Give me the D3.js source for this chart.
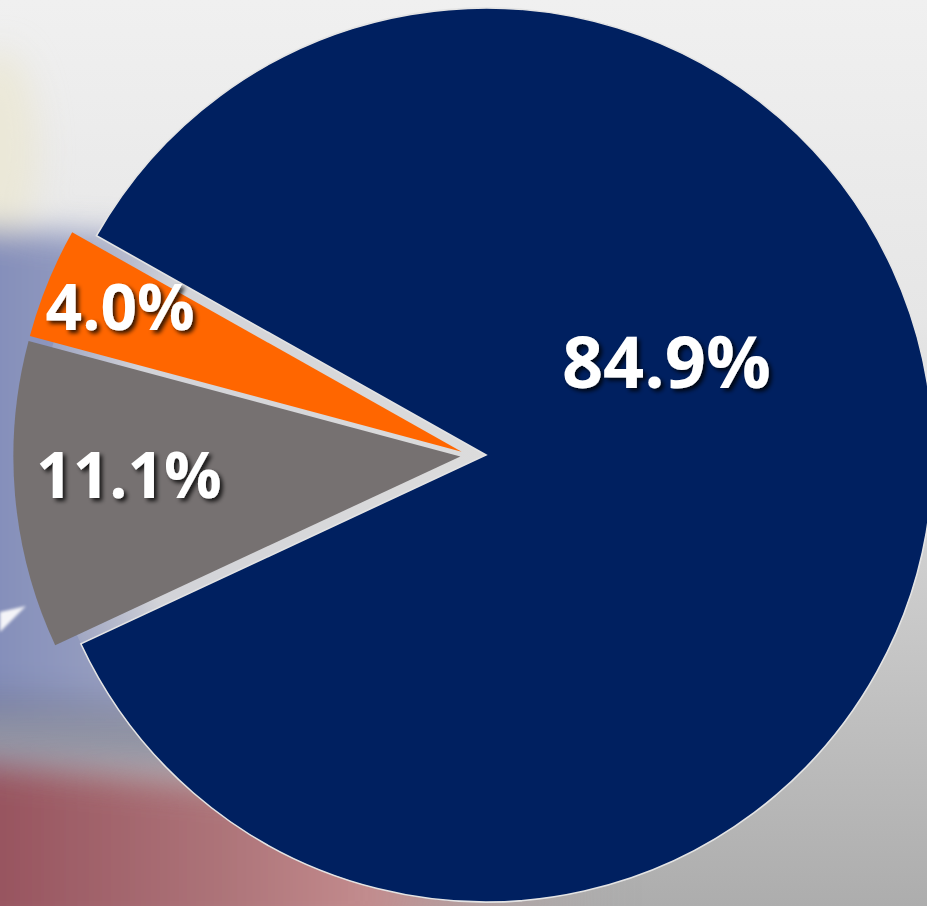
<!DOCTYPE html>
<html>
<head>
<meta charset="utf-8">
<script src="https://cdn.jsdelivr.net/npm/d3@7"></script>
<style>
  html, body { margin: 0; padding: 0; overflow: hidden; background: #eeeeee; }
</style>
</head>
<body>
<div id="chart"></div>
<script>
// data
var categories = ["Slice A", "Slice B", "Slice C"];
var shares = [84.9, 11.1, 4.0];
var shareLabels = ["84.9%", "11.1%", "4.0%"];

// layout / style (not data)
var width = 927, height = 906;
var cx = 486, cy = 455, radius = 447;
var notchMid = 272.2;          // degrees, where the small slices point
var groupShift = 25;           // how far the small slices are pulled out
var splitGap = 2.5;            // half gap between the two small slices
var labelPolar = [[62.7, 203], [266.8, 332], [293.0, 371]];  // [deg, r] per slice
var labelSize = [72, 64, 64];

var color = d3.scaleOrdinal()
  .domain(categories)
  .range(["#002060", "#767171", "#ff6600"]);

var svg = d3.select("#chart").append("svg")
  .attr("width", width)
  .attr("height", height);

var defs = svg.append("defs");

var bg = defs.append("linearGradient").attr("id", "bgGrad")
  .attr("x1", 0).attr("y1", 0).attr("x2", 0).attr("y2", 1);
bg.append("stop").attr("offset", 0).attr("stop-color", "#f0f0f0");
bg.append("stop").attr("offset", 0.35).attr("stop-color", "#e6e6e6");
bg.append("stop").attr("offset", 1).attr("stop-color", "#adadad");

var blue = defs.append("linearGradient").attr("id", "blueGrad");
blue.append("stop").attr("offset", 0).attr("stop-color", "#7f8ab8");
blue.append("stop").attr("offset", 0.45).attr("stop-color", "#a0a6c4");
blue.append("stop").attr("offset", 1).attr("stop-color", "#c8c9d2").attr("stop-opacity", 0);

var red = defs.append("linearGradient").attr("id", "redGrad");
red.append("stop").attr("offset", 0).attr("stop-color", "#944f5b");
red.append("stop").attr("offset", 0.4).attr("stop-color", "#ad7479");
red.append("stop").attr("offset", 0.62).attr("stop-color", "#c38b8d");
red.append("stop").attr("offset", 1).attr("stop-color", "#aaa6a6").attr("stop-opacity", 0);

var glow = defs.append("radialGradient").attr("id", "glow");
glow.append("stop").attr("offset", 0).attr("stop-color", "#dcdcdc");
glow.append("stop").attr("offset", 0.8).attr("stop-color", "#d2d3d8");
glow.append("stop").attr("offset", 1).attr("stop-color", "#b8bccc").attr("stop-opacity", 0.4);

defs.append("filter").attr("id", "soft")
  .attr("x", "-50%").attr("y", "-50%").attr("width", "200%").attr("height", "200%")
  .append("feGaussianBlur").attr("stdDeviation", 16);

defs.append("filter").attr("id", "softSmall")
  .append("feGaussianBlur").attr("stdDeviation", 1.5);

defs.append("filter").attr("id", "textShadow")
  .attr("x", "-20%").attr("y", "-20%").attr("width", "140%").attr("height", "150%")
  .append("feDropShadow")
    .attr("dx", 3).attr("dy", 3)
    .attr("stdDeviation", 2.2)
    .attr("flood-color", "#000")
    .attr("flood-opacity", 0.8);

// background picture, roughly
svg.append("rect")
  .attr("width", width).attr("height", height)
  .attr("fill", "url(#bgGrad)");

var deco = svg.append("g").attr("filter", "url(#soft)");
deco.append("ellipse")
  .attr("cx", 0).attr("cy", 150).attr("rx", 38).attr("ry", 100)
  .attr("fill", "#ebe7d3").attr("opacity", 0.8);
deco.append("polygon")
  .attr("points", "-40,228 260,242 430,300 430,715 -40,715")
  .attr("fill", "url(#blueGrad)");
deco.append("polygon")
  .attr("points", "-40,690 420,715 420,770 -40,760")
  .attr("fill", "#6b718e").attr("opacity", 0.55);
deco.append("polygon")
  .attr("points", "-40,762 250,788 620,830 620,940 -40,940")
  .attr("fill", "url(#redGrad)");

svg.append("polygon")
  .attr("points", "0,612 26,606 0,632")
  .attr("fill", "#f4f4f8")
  .attr("filter", "url(#softSmall)");

// pie
var rad = Math.PI / 180;
var smallShare = d3.sum(shares.slice(1));
var a0 = notchMid * rad + Math.PI * smallShare / 100 - 2 * Math.PI;

var pie = d3.pie()
  .sort(null)
  .value(d => d)
  .startAngle(a0)
  .endAngle(a0 + 2 * Math.PI);

var arc = d3.arc()
  .innerRadius(0)
  .outerRadius(radius);

var arcs = pie(shares);
var boundary = arcs[1].endAngle;

function offset(d, i) {
  if (i === 0) return [0, 0];
  var m = notchMid * rad;
  var s = i === 2 ? splitGap : -splitGap;
  return [
    groupShift * Math.sin(m) + s * Math.cos(boundary),
    -groupShift * Math.cos(m) + s * Math.sin(boundary)
  ];
}

var pieG = svg.append("g")
  .attr("transform", "translate(" + cx + "," + cy + ")");

pieG.append("circle")
  .attr("r", radius)
  .attr("fill", "url(#glow)");

pieG.selectAll("path.slice")
  .data(arcs)
  .enter().append("path")
  .attr("class", "slice")
  .attr("d", arc)
  .attr("fill", (d, i) => color(categories[i]))
  .attr("stroke", (d, i) => i === 0 ? "#e4e4e4" : "none")
  .attr("stroke-width", 1.6)
  .attr("transform", (d, i) => "translate(" + offset(d, i) + ")");

pieG.selectAll("text.label")
  .data(arcs)
  .enter().append("text")
  .attr("class", "label")
  .attr("transform", function(d, i) {
    var o = offset(d, i);
    var a = labelPolar[i][0] * rad, r = labelPolar[i][1];
    return "translate(" + (o[0] + r * Math.sin(a)) + "," + (o[1] - r * Math.cos(a)) + ")";
  })
  .attr("dy", "0.36em")
  .attr("text-anchor", "middle")
  .attr("font-family", "'Open Sans', 'DejaVu Sans', sans-serif")
  .attr("font-weight", 700)
  .attr("font-size", (d, i) => labelSize[i])
  .attr("fill", "#ffffff")
  .attr("filter", "url(#textShadow)")
  .text((d, i) => shareLabels[i]);
</script>
</body>
</html>
